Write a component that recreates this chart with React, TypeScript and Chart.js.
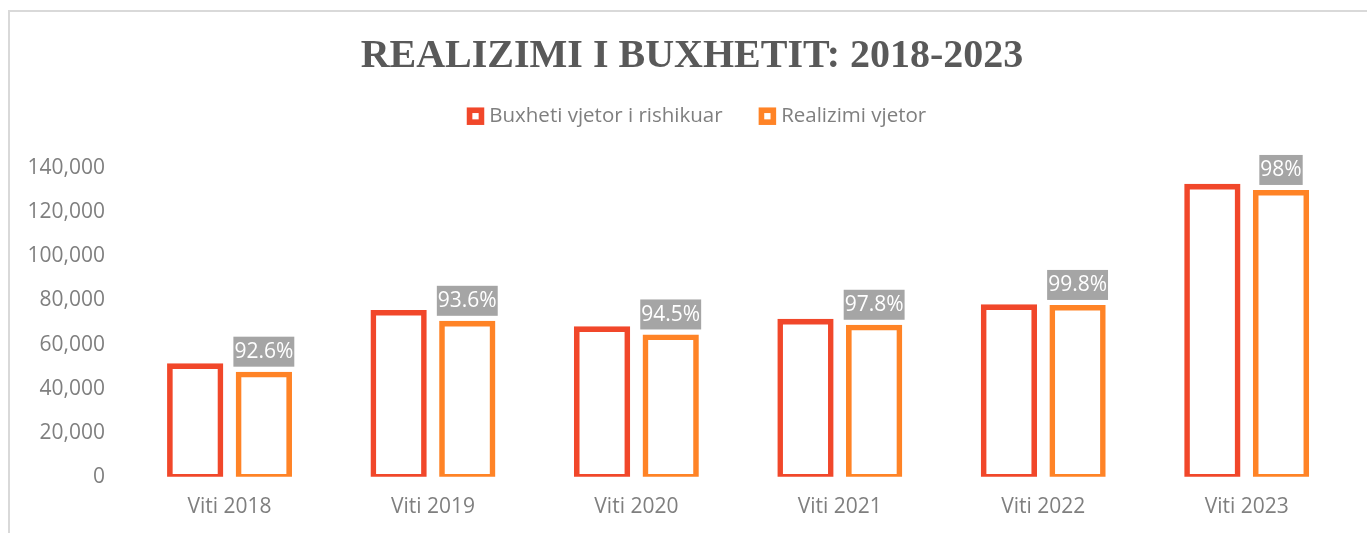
import React, { useEffect, useRef } from "react";
import { Chart, registerables } from "chart.js";

Chart.register(...registerables);

// ---------- data ----------
const categories = ["Viti 2018", "Viti 2019", "Viti 2020", "Viti 2021", "Viti 2022", "Viti 2023"];
const budgetRevised = [50200, 74400, 67000, 70400, 77000, 131700];
const budgetRealized = [46400, 69500, 63300, 67700, 76700, 128900];
const realizationLabels = ["92.6%", "93.6%", "94.5%", "97.8%", "99.8%", "98%"];
const seriesNames = ["Buxheti vjetor i rishikuar", "Realizimi vjetor"];
const titleText = "REALIZIMI I BUXHETIT: 2018-2023";
const yMin = 0;
const yMax = 140000;
const yStep = 20000;

// ---------- styles ----------
const RED = "#F1472A";
const ORANGE = "#FF8326";
const GRAY_TEXT = "#7F7F7F";
const FONT = "'Open Sans', sans-serif";
const W = 1367;
const H = 533;
const STROKE = 5.6;

const framePlugin = {
  id: "frame",
  beforeDraw(chart: any) {
    const ctx = chart.ctx;
    ctx.save();
    ctx.fillStyle = "#FFFFFF";
    ctx.fillRect(0, 0, W, H);
    ctx.fillStyle = "#D9D9D9";
    ctx.fillRect(8, 10, W - 8, 2);
    ctx.fillRect(8, 10, 2, H - 10);
    ctx.restore();
  },
};

const titleLegendPlugin = {
  id: "titleLegend",
  afterDraw(chart: any) {
    const ctx = chart.ctx;
    ctx.save();
    // title
    ctx.font = `bold 40px 'Liberation Serif', 'Times New Roman', serif`;
    ctx.fillStyle = "#595959";
    ctx.textAlign = "center";
    ctx.textBaseline = "alphabetic";
    ctx.fillText(titleText, 692, 66.5);

    // legend
    const ds = chart.data.datasets;
    ctx.font = `20.5px ${FONT}`;
    const box = 17.5;
    const boxGap = 5;
    const itemGap = 36;
    const widths = ds.map((d: any) => ctx.measureText(d.label).width);
    const total =
      widths.reduce((a: number, w: number) => a + box + boxGap + w, 0) + itemGap * (ds.length - 1);
    let x = 696.5 - total / 2;
    const cy = 116.2;
    ds.forEach((d: any, i: number) => {
      ctx.fillStyle = d.borderColor;
      ctx.fillRect(x, cy - box / 2, box, box);
      ctx.fillStyle = "#FFFFFF";
      const b = 5.6;
      ctx.fillRect(x + b, cy - box / 2 + b, box - 2 * b, box - 2 * b);
      ctx.fillStyle = GRAY_TEXT;
      ctx.textAlign = "left";
      ctx.textBaseline = "middle";
      ctx.fillText(d.label, x + box + boxGap, cy);
      x += box + boxGap + widths[i] + itemGap;
    });
    ctx.restore();
  },
};

const dataLabelPlugin = {
  id: "pctLabels",
  afterDatasetsDraw(chart: any) {
    const ctx = chart.ctx;
    const meta = chart.getDatasetMeta(1);
    ctx.save();
    ctx.font = `21px ${FONT}`;
    ctx.textAlign = "center";
    ctx.textBaseline = "middle";
    meta.data.forEach((bar: any, i: number) => {
      const text = realizationLabels[i];
      const tw = ctx.measureText(text).width;
      const bw = tw + 2;
      const bh = 30;
      const bottom = bar.y - STROKE / 2 - 5;
      ctx.fillStyle = "#A5A5A5";
      ctx.fillRect(bar.x - bw / 2, bottom - bh, bw, bh);
      ctx.fillStyle = "#FFFFFF";
      ctx.fillText(text, bar.x, bottom - bh / 2 + 0.5);
    });
    ctx.restore();
  },
};

export default function App() {
  const ref = useRef<HTMLCanvasElement | null>(null);

  useEffect(() => {
    if (!ref.current) return;
    const chart = new Chart(ref.current, {
      type: "bar",
      data: {
        labels: categories,
        datasets: [
          {
            label: seriesNames[0],
            data: budgetRevised,
            backgroundColor: "#FFFFFF",
            borderColor: RED,
            borderWidth: STROKE,
            borderSkipped: false,
            inflateAmount: STROKE / 2,
          },
          {
            label: seriesNames[1],
            data: budgetRealized,
            backgroundColor: "#FFFFFF",
            borderColor: ORANGE,
            borderWidth: STROKE,
            borderSkipped: false,
            inflateAmount: STROKE / 2,
          },
        ],
      },
      options: {
        responsive: false,
        animation: false,
        devicePixelRatio: 1,
        datasets: {
          bar: {
            categoryPercentage: 0.675,
            barPercentage: 0.738,
          },
        },
        layout: {
          padding: { left: 0, right: 18.6, top: 168.3, bottom: 0 },
        },
        plugins: {
          legend: { display: false },
          title: { display: false },
          tooltip: { enabled: false },
        },
        scales: {
          x: {
            grid: { display: false, drawTicks: false },
            border: { display: false },
            ticks: {
              color: GRAY_TEXT,
              font: { family: FONT, size: 21, lineHeight: 1.2 },
              padding: 17.4,
              maxRotation: 0,
            },
            afterFit(scale: any) {
              scale.height = 56.3;
            },
          },
          y: {
            min: yMin,
            max: yMax,
            grid: { display: false, drawTicks: false },
            border: { display: false },
            ticks: {
              stepSize: yStep,
              color: GRAY_TEXT,
              font: { family: FONT, size: 21 },
              padding: 22.8,
              callback: (v: any) => Number(v).toLocaleString("en-US"),
            },
            afterFit(scale: any) {
              scale.width = 127.8;
            },
          },
        },
      },
      plugins: [framePlugin, dataLabelPlugin, titleLegendPlugin],
    });
    return () => chart.destroy();
  }, []);

  return (
    <div style={{ position: "fixed", left: 0, top: 0, width: W, height: H, background: "#fff" }}>
      <canvas ref={ref} width={W} height={H} style={{ display: "block", width: W, height: H }} />
    </div>
  );
}
